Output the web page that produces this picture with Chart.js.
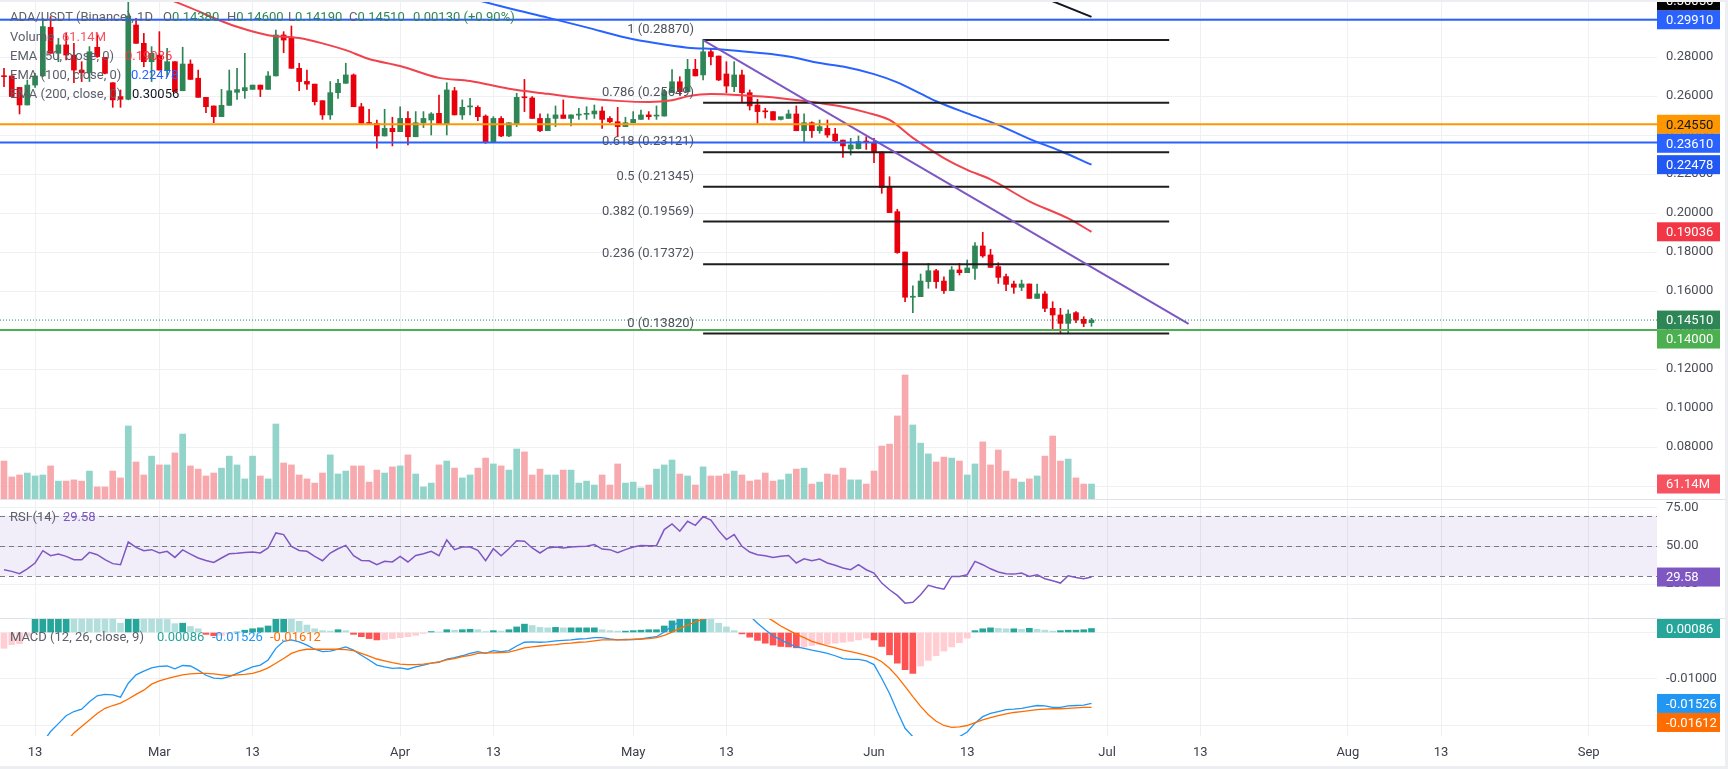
<!DOCTYPE html>
<html>
<head>
<meta charset="utf-8">
<title>ADA/USDT 1D</title>
<script src="https://cdn.jsdelivr.net/npm/chart.js@4.4.1/dist/chart.umd.min.js"></script>
<style>
  html, body { margin: 0; padding: 0; background: #eceef2; width: 1728px; height: 769px; overflow: hidden; }
  #wrap { position: absolute; left: 0; top: 2px; width: 1725px; height: 764px; background: #fff; overflow: hidden; font-family: Roboto, 'Liberation Sans', sans-serif; }
  canvas { position: absolute; left: 0; }
  .sep { position: absolute; left: 0; width: 1725px; height: 1px; background: #dfe2e8; }
  .lg { position: absolute; white-space: nowrap; font-size: 13px; line-height: 18px; color: #5d606b; }
  .k { color: #5d606b; }
  .up { color: #2e8555; }
</style>
</head>
<body>
<div id="wrap">
  <canvas id="mainChart" width="1725" height="497" style="top:0"></canvas>
  <canvas id="rsiChart" width="1725" height="119" style="top:497px"></canvas>
  <canvas id="macdChart" width="1725" height="148" style="top:616px"></canvas>
  <div class="sep" style="top:497px"></div>
  <div class="sep" style="top:616px"></div>

  <!-- legend, main pane -->
  <div class="lg" style="top:6px;left:10px">ADA/USDT (Binance), 1D</div>
  <div class="lg" style="top:6px;left:163px"><span class="k">O</span><span class="up">0.14380</span></div>
  <div class="lg" style="top:6px;left:227px"><span class="k">H</span><span class="up">0.14600</span></div>
  <div class="lg" style="top:6px;left:288px"><span class="k">L</span><span class="up">0.14190</span></div>
  <div class="lg" style="top:6px;left:349px"><span class="k">C</span><span class="up">0.14510</span></div>
  <div class="lg up" style="top:6px;left:413px">0.00130 (+0.90%)</div>
  <div class="lg" style="top:26px;left:10px">Volume</div>
  <div class="lg" style="top:26px;left:62px;color:#f7525f">61.14M</div>
  <div class="lg" style="top:45px;left:10px">EMA (50, close, 0)</div>
  <div class="lg" style="top:45px;left:125px;color:#f23645">0.19036</div>
  <div class="lg" style="top:64px;left:10px">EMA (100, close, 0)</div>
  <div class="lg" style="top:64px;left:131px;color:#2962ff">0.22478</div>
  <div class="lg" style="top:83px;left:10px">EMA (200, close, 0)</div>
  <div class="lg" style="top:83px;left:132px;color:#131722">0.30056</div>

  <!-- legend, RSI pane -->
  <div class="lg" style="top:506px;left:10px">RSI (14)</div>
  <div class="lg" style="top:506px;left:63px;color:#7e57c2">29.58</div>

  <!-- legend, MACD pane -->
  <div class="lg" style="top:626px;left:10px">MACD (12, 26, close, 9)</div>
  <div class="lg" style="top:626px;left:157px;color:#26a69a">0.00086</div>
  <div class="lg" style="top:626px;left:212px;color:#2196f3">-0.01526</div>
  <div class="lg" style="top:626px;left:270px;color:#ff6d00">-0.01612</div>
</div>

<script>
// daily candles, index 0 = Feb 9, last = Jun 29
const opens = [
  0.2702, 0.2703, 0.2644, 0.2554, 0.2656, 0.2703, 0.2952, 0.2819, 0.2862, 0.2810,
  0.2733, 0.2720, 0.2850, 0.2798, 0.2668, 0.2597, 0.2583, 0.2964, 0.2870, 0.2776,
  0.2810, 0.2733, 0.2776, 0.2627, 0.2764, 0.2691, 0.2593, 0.2549, 0.2494, 0.2552,
  0.2619, 0.2627, 0.2634, 0.2656, 0.2634, 0.2703, 0.2913, 0.2896, 0.2742, 0.2675,
  0.2661, 0.2576, 0.2503, 0.2617, 0.2665, 0.2708, 0.2545, 0.2461, 0.2460, 0.2395,
  0.2434, 0.2417, 0.2485, 0.2391, 0.2463, 0.2477, 0.2511, 0.2456, 0.2627, 0.2503,
  0.2544, 0.2542, 0.2497, 0.2361, 0.2485, 0.2395, 0.2456, 0.2595, 0.2590, 0.2485,
  0.2422, 0.2485, 0.2503, 0.2485, 0.2502, 0.2506, 0.2508, 0.2523, 0.2485, 0.2468,
  0.2443, 0.2463, 0.2480, 0.2503, 0.2497, 0.2497, 0.2617, 0.2673, 0.2622, 0.2737,
  0.2708, 0.2827, 0.2805, 0.2713, 0.2648, 0.2708, 0.2617, 0.2554, 0.2521, 0.2520,
  0.2480, 0.2485, 0.2508, 0.2422, 0.2463, 0.2422, 0.2434, 0.2405, 0.2374, 0.2328,
  0.2330, 0.2368, 0.2361, 0.2313, 0.2135, 0.2007, 0.1800, 0.1568, 0.1571, 0.1648,
  0.1704, 0.1651, 0.1602, 0.1708, 0.1694, 0.1716, 0.1831, 0.1785, 0.1725, 0.1674,
  0.1636, 0.1619, 0.1636, 0.1562, 0.1585, 0.1511, 0.1477, 0.1434, 0.1489, 0.1455,
  0.1438
];
const highs = [
  0.2742, 0.2705, 0.2644, 0.2682, 0.2716, 0.2998, 0.3007, 0.2896, 0.2921, 0.2870,
  0.2776, 0.2853, 0.2913, 0.2798, 0.2668, 0.2631, 0.3084, 0.2998, 0.2921, 0.2853,
  0.2930, 0.2844, 0.2776, 0.2850, 0.2785, 0.2733, 0.2593, 0.2549, 0.2634, 0.2733,
  0.2742, 0.2819, 0.2656, 0.2656, 0.2725, 0.2938, 0.2930, 0.2959, 0.2768, 0.2733,
  0.2661, 0.2576, 0.2674, 0.2685, 0.2768, 0.2713, 0.2562, 0.2532, 0.2477, 0.2532,
  0.2491, 0.2545, 0.2520, 0.2520, 0.2520, 0.2515, 0.2605, 0.2668, 0.2644, 0.2580,
  0.2588, 0.2549, 0.2503, 0.2494, 0.2494, 0.2463, 0.2614, 0.2685, 0.2597, 0.2508,
  0.2508, 0.2549, 0.2580, 0.2503, 0.2537, 0.2545, 0.2554, 0.2545, 0.2494, 0.2542,
  0.2491, 0.2520, 0.2528, 0.2520, 0.2549, 0.2634, 0.2736, 0.2699, 0.2788, 0.2788,
  0.2891, 0.2844, 0.2805, 0.2776, 0.2776, 0.2733, 0.2631, 0.2583, 0.2537, 0.2520,
  0.2482, 0.2528, 0.2549, 0.2508, 0.2468, 0.2477, 0.2477, 0.2434, 0.2374, 0.2383,
  0.2395, 0.2391, 0.2383, 0.2313, 0.2186, 0.2019, 0.1800, 0.1626, 0.1687, 0.1742,
  0.1711, 0.1673, 0.1725, 0.1742, 0.1759, 0.1848, 0.1901, 0.1814, 0.1745, 0.1687,
  0.1651, 0.1656, 0.1636, 0.1636, 0.1597, 0.1545, 0.1511, 0.1503, 0.1494, 0.1468,
  0.1460
];
const lows = [
  0.2648, 0.2594, 0.2508, 0.2554, 0.2644, 0.2699, 0.2819, 0.2776, 0.2785, 0.2668,
  0.2674, 0.2674, 0.2798, 0.2713, 0.2542, 0.2542, 0.2580, 0.2870, 0.2750, 0.2674,
  0.2733, 0.2699, 0.2622, 0.2627, 0.2685, 0.2593, 0.2515, 0.2463, 0.2494, 0.2552,
  0.2583, 0.2588, 0.2634, 0.2597, 0.2634, 0.2703, 0.2822, 0.2742, 0.2627, 0.2634,
  0.2554, 0.2480, 0.2480, 0.2588, 0.2665, 0.2545, 0.2456, 0.2456, 0.2332, 0.2395,
  0.2344, 0.2417, 0.2349, 0.2391, 0.2438, 0.2400, 0.2456, 0.2400, 0.2503, 0.2480,
  0.2503, 0.2474, 0.2357, 0.2361, 0.2391, 0.2391, 0.2443, 0.2520, 0.2485, 0.2417,
  0.2422, 0.2443, 0.2485, 0.2446, 0.2480, 0.2480, 0.2485, 0.2434, 0.2463, 0.2391,
  0.2443, 0.2463, 0.2480, 0.2480, 0.2480, 0.2497, 0.2617, 0.2605, 0.2622, 0.2703,
  0.2682, 0.2759, 0.2679, 0.2617, 0.2622, 0.2571, 0.2528, 0.2460, 0.2487, 0.2477,
  0.2477, 0.2485, 0.2422, 0.2366, 0.2388, 0.2409, 0.2388, 0.2366, 0.2285, 0.2297,
  0.2328, 0.2326, 0.2258, 0.2101, 0.2002, 0.1793, 0.1545, 0.1489, 0.1571, 0.1614,
  0.1614, 0.1588, 0.1602, 0.1682, 0.1694, 0.1660, 0.1773, 0.1721, 0.1639, 0.1602,
  0.1588, 0.1602, 0.1562, 0.1562, 0.1494, 0.1400, 0.1386, 0.1383, 0.1438, 0.1417,
  0.1419
];
const closes = [
  0.2699, 0.2597, 0.2554, 0.2656, 0.2703, 0.2956, 0.2819, 0.2862, 0.2810, 0.2733,
  0.2720, 0.2827, 0.2802, 0.2716, 0.2580, 0.2583, 0.3010, 0.2870, 0.2776, 0.2819,
  0.2733, 0.2776, 0.2622, 0.2764, 0.2685, 0.2593, 0.2545, 0.2494, 0.2552, 0.2627,
  0.2633, 0.2643, 0.2656, 0.2634, 0.2703, 0.2913, 0.2887, 0.2742, 0.2674, 0.2661,
  0.2571, 0.2503, 0.2617, 0.2665, 0.2708, 0.2545, 0.2460, 0.2459, 0.2395, 0.2434,
  0.2417, 0.2485, 0.2391, 0.2463, 0.2485, 0.2508, 0.2456, 0.2631, 0.2503, 0.2542,
  0.2546, 0.2494, 0.2361, 0.2485, 0.2395, 0.2463, 0.2593, 0.2591, 0.2485, 0.2422,
  0.2485, 0.2503, 0.2485, 0.2503, 0.2504, 0.2508, 0.2523, 0.2480, 0.2468, 0.2443,
  0.2463, 0.2480, 0.2503, 0.2494, 0.2499, 0.2622, 0.2673, 0.2622, 0.2737, 0.2703,
  0.2827, 0.2802, 0.2682, 0.2651, 0.2708, 0.2617, 0.2549, 0.2520, 0.2519, 0.2477,
  0.2494, 0.2508, 0.2422, 0.2463, 0.2422, 0.2443, 0.2400, 0.2371, 0.2344, 0.2349,
  0.2366, 0.2364, 0.2309, 0.2130, 0.2002, 0.1797, 0.1568, 0.1571, 0.1651, 0.1704,
  0.1648, 0.1602, 0.1708, 0.1694, 0.1718, 0.1831, 0.1780, 0.1721, 0.1670, 0.1634,
  0.1619, 0.1636, 0.1562, 0.1585, 0.1511, 0.1477, 0.1434, 0.1482, 0.1451, 0.1434,
  0.1451
];
// volume in millions
const volumes = [
  155, 90, 98, 106, 94, 98, 135, 73, 73, 78,
  73, 114, 49, 49, 114, 86, 298, 151, 98, 175,
  139, 139, 188, 265, 135, 122, 94, 106, 126, 175,
  139, 82, 175, 94, 82, 306, 147, 139, 98, 82,
  65, 106, 180, 102, 114, 135, 135, 69, 118, 106,
  131, 135, 180, 102, 49, 65, 139, 155, 126, 86,
  98, 126, 167, 143, 135, 118, 204, 192, 98, 122,
  98, 98, 118, 118, 65, 73, 57, 98, 57, 143,
  65, 69, 45, 57, 122, 139, 159, 102, 94, 57,
  131, 94, 94, 102, 114, 98, 73, 78, 106, 73,
  78, 102, 122, 126, 61, 69, 102, 98, 126, 78,
  78, 61, 114, 216, 224, 339, 506, 302, 228, 184,
  151, 171, 167, 155, 98, 143, 233, 139, 200, 114,
  82, 69, 82, 94, 175, 257, 155, 163, 86, 61,
  61.14
];
const rsi = [
  34.4, 33.3, 31.8, 35, 38.8, 46.9, 43.6, 44.7, 43.2, 41,
  41, 45.8, 44.3, 41, 38.4, 37.7, 52.6, 49.1, 46.9, 47.6,
  45.4, 46.5, 42.5, 47.4, 44.7, 42.1, 40.5, 39.2, 42.1, 44.9,
  45.2, 45.8, 46, 45.4, 48.7, 58.6, 57.5, 49.8, 47.1, 46.5,
  43.2, 40.3, 45.4, 48.2, 50.4, 43.6, 40.5, 40.3, 37.7, 39.9,
  39.5, 43.2, 39.5, 43.8, 44.9, 46.5, 43.6, 54, 47.6, 49.3,
  49.3, 47.1, 40.3, 48.2, 43.6, 48.2, 53.5, 53.1, 48.7, 45.4,
  48.7, 49.3, 48.7, 49.3, 49.6, 49.8, 50.9, 48, 47.6, 45.6,
  47.6, 49.3, 50.4, 50.2, 50.2, 60.8, 64.5, 59.7, 66.3, 63.6,
  69.3, 67.1, 60.1, 54.2, 57.5, 49.8, 46, 44.3, 43.6, 42.5,
  43.2, 43.8, 38.8, 41.6, 40.3, 41.4, 38.8, 37.3, 35.5, 34.4,
  37.7, 34.4, 32.2, 25.6, 21.2, 17.5, 12.4, 13, 17.9, 24.1,
  22.7, 21.6, 30, 30, 31.1, 39.9, 37.7, 35, 32.9, 31.8,
  31.5, 32.2, 30, 31.1, 28.5, 27.1, 25.6, 30.4, 29.3, 28.5,
  29.58
];
const macdLine = [
  -0.0370, -0.0358, -0.0345, -0.0318, -0.0265, -0.0236, -0.0213, -0.0196, -0.0179, -0.0170,
  -0.0165, -0.0149, -0.0136, -0.0133, -0.0134, -0.0139, -0.0109, -0.0091, -0.0083, -0.0076,
  -0.0073, -0.0072, -0.0078, -0.0071, -0.0072, -0.0081, -0.0092, -0.0098, -0.0099, -0.0095,
  -0.0088, -0.0081, -0.0074, -0.0070, -0.0059, -0.0034, -0.0019, -0.0016, -0.0020, -0.0027,
  -0.0036, -0.0041, -0.0040, -0.0036, -0.0031, -0.0038, -0.0049, -0.0059, -0.0070, -0.0074,
  -0.0077, -0.0076, -0.0079, -0.0074, -0.0070, -0.0066, -0.0064, -0.0057, -0.0054, -0.0050,
  -0.0045, -0.0041, -0.0045, -0.0039, -0.0041, -0.0039, -0.0029, -0.0021, -0.0020, -0.0021,
  -0.0020, -0.0018, -0.0017, -0.0016, -0.0014, -0.0013, -0.0011, -0.0011, -0.0014, -0.0016,
  -0.0015, -0.0015, -0.0014, -0.0011, -0.0009, 0.0001, 0.0014, 0.0023, 0.0038, 0.0045,
  0.0055, 0.0058, 0.0052, 0.0045, 0.0042, 0.0040, 0.0036, 0.0020, 0.0006, -0.0007,
  -0.0016, -0.0024, -0.0031, -0.0034, -0.0038, -0.0041, -0.0045, -0.0050, -0.0056, -0.0058,
  -0.0058, -0.0061, -0.0069, -0.0099, -0.0131, -0.0170, -0.0206, -0.0224, -0.0238, -0.0240,
  -0.0243, -0.0241, -0.0236, -0.0224, -0.0214, -0.0195, -0.0181, -0.0174, -0.0170, -0.0166,
  -0.0165, -0.0163, -0.0160, -0.0157, -0.0158, -0.0161, -0.0161, -0.0158, -0.0157, -0.0156,
  -0.01526
];
const signalLine = [
  -0.0336, -0.0332, -0.0321, -0.0310, -0.0297, -0.0283, -0.0267, -0.0252, -0.0236, -0.0216,
  -0.0202, -0.0188, -0.0174, -0.0163, -0.0157, -0.0152, -0.0143, -0.0133, -0.0124, -0.0111,
  -0.0104, -0.0099, -0.0095, -0.0091, -0.0089, -0.0088, -0.0088, -0.0089, -0.0091, -0.0093,
  -0.0091, -0.0090, -0.0088, -0.0083, -0.0076, -0.0066, -0.0056, -0.0045, -0.0039, -0.0036,
  -0.0036, -0.0036, -0.0036, -0.0036, -0.0037, -0.0039, -0.0045, -0.0051, -0.0057, -0.0061,
  -0.0065, -0.0068, -0.0069, -0.0069, -0.0068, -0.0066, -0.0063, -0.0059, -0.0056, -0.0052,
  -0.0049, -0.0045, -0.0044, -0.0044, -0.0043, -0.0042, -0.0038, -0.0033, -0.0031, -0.0029,
  -0.0027, -0.0026, -0.0024, -0.0023, -0.0021, -0.0020, -0.0018, -0.0016, -0.0016, -0.0016,
  -0.0016, -0.0015, -0.0014, -0.0013, -0.0011, -0.0006, 0.0001, 0.0009, 0.0016, 0.0023,
  0.0029, 0.0032, 0.0037, 0.0040, 0.0042, 0.0043, 0.0042, 0.0040, 0.0035, 0.0025,
  0.0014, 0.0005, -0.0004, -0.0011, -0.0019, -0.0024, -0.0029, -0.0033, -0.0038, -0.0041,
  -0.0045, -0.0049, -0.0054, -0.0063, -0.0077, -0.0095, -0.0116, -0.0138, -0.0159, -0.0177,
  -0.0191, -0.0200, -0.0204, -0.0203, -0.0200, -0.0194, -0.0188, -0.0183, -0.0179, -0.0175,
  -0.0172, -0.0170, -0.0168, -0.0166, -0.0165, -0.0164, -0.0164, -0.0163, -0.0162, -0.0161,
  -0.01612
];
const macdHist = [
  -0.0034, -0.0026, -0.0024, -0.0008, 0.0032, 0.0042, 0.0050, 0.0056, 0.0060, 0.0058,
  0.0054, 0.0050, 0.0044, 0.0036, 0.0030, 0.0020, 0.0034, 0.0042, 0.0040, 0.0036,
  0.0032, 0.0028, 0.0019, 0.0020, 0.0013, 0.0008, -0.0004, -0.0007, -0.0006, -0.0003,
  0.0001, 0.0005, 0.0008, 0.0010, 0.0014, 0.0035, 0.0040, 0.0032, 0.0024, 0.0016,
  0.0008, 0.0004, 0.0003, 0.0006, 0.0004, -0.0004, -0.0009, -0.0013, -0.0016, -0.0015,
  -0.0013, -0.0011, -0.0009, -0.0006, -0.0002, 0.0002, 0.0001, 0.0006, 0.0005, 0.0006,
  0.0007, 0.0006, 0.0002, 0.0004, 0.0003, 0.0006, 0.0012, 0.0018, 0.0015, 0.0011,
  0.0010, 0.0011, 0.0010, 0.0010, 0.0010, 0.0010, 0.0010, 0.0006, 0.0004, 0.0003,
  0.0003, 0.0004, 0.0005, 0.0006, 0.0006, 0.0014, 0.0025, 0.0032, 0.0040, 0.0042,
  0.0044, 0.0030, 0.0020, 0.0012, 0.0004, -0.0003, -0.0010, -0.0017, -0.0023, -0.0027,
  -0.0030, -0.0031, -0.0033, -0.0031, -0.0028, -0.0026, -0.0025, -0.0023, -0.0021, -0.0019,
  -0.0016, -0.0012, -0.0016, -0.0030, -0.0048, -0.0066, -0.0080, -0.0088, -0.0072, -0.0060,
  -0.0050, -0.0040, -0.0031, -0.0022, -0.0012, 0.0004, 0.0008, 0.0010, 0.0009, 0.0008,
  0.0008, 0.0007, 0.0009, 0.0007, 0.0005, 0.0003, 0.0004, 0.0005, 0.0005, 0.0006,
  0.00086
];

// moving averages at a few days
const ema50Days = [21, 25, 27, 30, 34, 38, 41, 44, 47, 51, 56, 60, 65, 70, 74, 79, 83, 86, 88, 91, 95, 100, 105, 108, 111, 114, 117, 121, 124, 127, 132, 137, 140];
const ema50Vals = [0.3100, 0.3035, 0.3000, 0.2955, 0.2912, 0.2897, 0.2870, 0.2835, 0.2790, 0.2754, 0.2693, 0.2677, 0.2637, 0.2611, 0.2591, 0.2575, 0.2569, 0.2578, 0.2598, 0.2610, 0.2604, 0.2589, 0.2564, 0.2545, 0.2516, 0.2477, 0.2385, 0.2282, 0.2221, 0.2172, 0.2060, 0.1972, 0.19036];
const ema100Days = [60, 65, 70, 75, 80, 84, 88, 92, 97, 101, 105, 108, 112, 115, 118, 120, 124, 128, 132, 136, 140];
const ema100Vals = [0.3102, 0.3050, 0.3002, 0.2952, 0.2900, 0.2870, 0.2848, 0.2840, 0.2822, 0.2803, 0.2769, 0.2751, 0.2712, 0.2670, 0.2612, 0.2573, 0.2511, 0.2452, 0.2380, 0.2318, 0.22478];
const ema200Days = [134, 140];
const ema200Vals = [0.3102, 0.30056];

// drawings
const trendDays = [90, 152.5];
const trendVals = [0.2887, 0.1431];
const fibDays = [90, 150];
const fibRatios = ['1', '0.786', '0.618', '0.5', '0.382', '0.236', '0'];
const fibPrices = [0.2887, 0.25649, 0.23121, 0.21345, 0.19569, 0.17372, 0.1382];
const levelPrices = [0.2991, 0.2455, 0.2361, 0.14];
const lastPrice = 0.1451;

// axes
const tickDays = [4, 20, 32, 51, 63, 81, 93, 112, 124, 142, 154, 173, 185, 204];
const tickLabels = ['13', 'Mar', '13', 'Apr', '13', 'May', '13', 'Jun', '13', 'Jul', '13', 'Aug', '13', 'Sep'];
const priceTicks = [0.06, 0.08, 0.10, 0.12, 0.14, 0.16, 0.18, 0.20, 0.22, 0.24, 0.26, 0.28, 0.30];
const rsiTicks = [25, 50, 75];
const macdTicks = [-0.02, -0.01, 0];

// ---- styling ----
const FONT = "Roboto, 'Liberation Sans', sans-serif";
const GRID = '#eef0f4';
const AXIS_TXT = '#4a4d57';
const AXIS_W = 68;
const UP = '#2e8555', DOWN = '#e8000c';
const VOL_UP = '#92d3ca', VOL_DOWN = '#f8a9ad';
const X_MIN = -0.515, X_MAX = 212.8;

Chart.defaults.font.family = FONT;
Chart.defaults.font.size = 13;

const days = opens.map((_, i) => i);
const isUp = days.map(i => closes[i] >= opens[i]);

function xScale(withLabels) {
  return {
    type: 'linear', min: X_MIN, max: X_MAX, offset: false,
    grid: { color: GRID, drawTicks: false, offset: false },
    border: { display: false },
    afterBuildTicks: s => { s.ticks = tickDays.map(v => ({ value: v })); },
    ticks: {
      display: withLabels, autoSkip: false, maxRotation: 0, padding: 9, color: '#3b3e48',
      callback: (v, i) => tickLabels[i]
    },
    afterFit: s => { s.height = withLabels ? 30 : 0; s.paddingLeft = 0; s.paddingRight = 0; }
  };
}

function yScale(min, max, ticks, digits) {
  return {
    position: 'right', min, max,
    grid: { color: GRID, drawTicks: false },
    border: { display: false },
    afterBuildTicks: s => { s.ticks = ticks.map(v => ({ value: v })); },
    ticks: { padding: 9, color: AXIS_TXT, callback: v => v.toFixed(digits) },
    afterFit: s => { s.width = AXIS_W; s.paddingTop = 0; s.paddingBottom = 0; }
  };
}

function points(xs, ys) {
  return xs.map((x, k) => ({ x, y: ys[k] }));
}

function lineSet(data, color, width, order, extra) {
  return Object.assign({
    type: 'line', data, borderColor: color, borderWidth: width,
    pointRadius: 0, fill: false, order, yAxisID: 'y'
  }, extra || {});
}

// full width horizontal lines
const levelsPlugin = {
  id: 'levels',
  afterDatasetsDraw(chart, args, opts) {
    const { ctx, chartArea: a } = chart;
    ctx.save();
    ctx.beginPath();
    ctx.rect(a.left, a.top, a.right - a.left, a.bottom - a.top);
    ctx.clip();
    (opts.lines || []).forEach(l => {
      const y = chart.scales.y.getPixelForValue(l.value);
      ctx.strokeStyle = l.color;
      ctx.lineWidth = l.width;
      ctx.setLineDash(l.dash || []);
      ctx.beginPath();
      ctx.moveTo(a.left, y);
      ctx.lineTo(a.right, y);
      ctx.stroke();
    });
    ctx.restore();
  }
};

// coloured value boxes on the price axis
const axisBoxPlugin = {
  id: 'axisBoxes',
  afterDraw(chart, args, opts) {
    const { ctx, chartArea: a } = chart;
    const H = 19;
    const placed = [];
    ctx.save();
    ctx.font = '13px ' + FONT;
    ctx.textBaseline = 'middle';
    ctx.textAlign = 'left';
    (opts.items || []).forEach(it => {
      let y = chart.scales[it.axis || 'y'].getPixelForValue(it.value);
      for (let guard = 0; guard < 10; guard++) {
        const hit = placed.find(p => Math.abs(p - y) < H - 0.5);
        if (hit === undefined) break;
        y = y < hit ? hit - H : hit + H;
      }
      placed.push(y);
      ctx.fillStyle = it.bg;
      ctx.fillRect(a.right, y - H / 2, 63, H);
      ctx.fillStyle = it.fg || '#fff';
      ctx.fillText(it.text, a.right + 9, y + 1);
    });
    ctx.restore();
  }
};

// fib level captions
const fibTextPlugin = {
  id: 'fibText',
  afterDatasetsDraw(chart) {
    const { ctx } = chart;
    const x = chart.scales.x.getPixelForValue(fibDays[0]) - 9;
    ctx.save();
    ctx.font = '13px ' + FONT;
    ctx.fillStyle = '#50535e';
    ctx.textAlign = 'right';
    ctx.textBaseline = 'middle';
    fibPrices.forEach((p, k) => {
      const y = chart.scales.y.getPixelForValue(p) - 10;
      ctx.fillText(fibRatios[k] + ' (' + p.toFixed(5) + ')', x, y);
    });
    ctx.restore();
  }
};

// RSI band and dashed bounds
const rsiBandPlugin = {
  id: 'rsiBand',
  beforeDatasetsDraw(chart) {
    const { ctx, chartArea: a, scales: { y } } = chart;
    const y70 = y.getPixelForValue(70), y30 = y.getPixelForValue(30);
    ctx.save();
    ctx.fillStyle = 'rgba(126, 87, 194, 0.1)';
    ctx.fillRect(a.left, y70, a.right - a.left, y30 - y70);
    ctx.strokeStyle = '#787b86';
    ctx.lineWidth = 1;
    ctx.setLineDash([5, 4]);
    [70, 50, 30].forEach(v => {
      const py = Math.round(y.getPixelForValue(v)) + 0.5;
      ctx.beginPath();
      ctx.moveTo(a.left, py);
      ctx.lineTo(a.right, py);
      ctx.stroke();
    });
    ctx.restore();
  }
};

const baseOptions = {
  responsive: false,
  animation: false,
  events: [],
  layout: { padding: 0 }
};

// ---- main price pane ----
const priceTop = 0.2 + 211 / 1950, priceBottom = 0.2 - 286 / 1950;

const fibSets = fibPrices.map(p =>
  lineSet(points(fibDays, [p, p]), '#1e1e1e', 2, 2));

new Chart(document.getElementById('mainChart'), {
  type: 'bar',
  data: {
    datasets: [
      {
        type: 'bar', yAxisID: 'yv', order: 10, grouped: false, barThickness: 6,
        data: days.map(i => ({ x: i, y: volumes[i] })),
        backgroundColor: days.map(i => isUp[i] ? VOL_UP : VOL_DOWN)
      },
      {
        type: 'bar', yAxisID: 'y', order: 6, grouped: false, barThickness: 1,
        data: days.map(i => ({ x: i, y: [lows[i], highs[i]] })),
        backgroundColor: days.map(i => isUp[i] ? UP : DOWN)
      },
      {
        type: 'bar', yAxisID: 'y', order: 5, grouped: false, barThickness: 5, minBarLength: 1,
        data: days.map(i => ({ x: i, y: [opens[i], closes[i]] })),
        backgroundColor: days.map(i => isUp[i] ? UP : DOWN)
      },
      lineSet(points(ema50Days, ema50Vals), '#f0434e', 2, 3, { cubicInterpolationMode: 'monotone' }),
      lineSet(points(ema100Days, ema100Vals), '#2962ff', 2, 3, { cubicInterpolationMode: 'monotone' }),
      lineSet(points(ema200Days, ema200Vals), '#131722', 2, 3),
      ...fibSets,
      lineSet(points(trendDays, trendVals), '#7e57c2', 2, 1)
    ]
  },
  options: Object.assign({}, baseOptions, {
    scales: {
      x: xScale(false),
      y: yScale(priceBottom, priceTop, priceTicks, 5),
      yv: { display: false, min: 0, max: 2028 }
    },
    plugins: {
      legend: { display: false },
      tooltip: { enabled: false },
      levels: {
        lines: [
          { value: levelPrices[0], color: '#2962ff', width: 2 },
          { value: levelPrices[1], color: '#ff9800', width: 2 },
          { value: levelPrices[2], color: '#2962ff', width: 2 },
          { value: levelPrices[3], color: '#4caf50', width: 2 },
          { value: lastPrice, color: '#2e8555', width: 1, dash: [1, 2] }
        ]
      },
      axisBoxes: {
        items: [
          { value: lastPrice, text: lastPrice.toFixed(5), bg: '#2e8555' },
          { value: levelPrices[0], text: levelPrices[0].toFixed(5), bg: '#2962ff' },
          { value: levelPrices[1], text: levelPrices[1].toFixed(5), bg: '#ff9800', fg: '#131722' },
          { value: levelPrices[2], text: levelPrices[2].toFixed(5), bg: '#2962ff' },
          { value: levelPrices[3], text: levelPrices[3].toFixed(5), bg: '#4caf50' },
          { value: ema100Vals[ema100Vals.length - 1], text: '0.22478', bg: '#2157f2' },
          { value: ema50Vals[ema50Vals.length - 1], text: '0.19036', bg: '#f23645' },
          { value: ema200Vals[ema200Vals.length - 1], text: '0.30056', bg: '#000000' },
          { axis: 'yv', value: volumes[volumes.length - 1], text: '61.14M', bg: '#f7525f' }
        ]
      }
    }
  }),
  plugins: [levelsPlugin, fibTextPlugin, axisBoxPlugin]
});

// ---- RSI pane ----
new Chart(document.getElementById('rsiChart'), {
  type: 'line',
  data: {
    datasets: [{
      data: points(days, rsi), borderColor: '#7e57c2', borderWidth: 1.5,
      pointRadius: 0, fill: false, yAxisID: 'y'
    }]
  },
  options: Object.assign({}, baseOptions, {
    scales: {
      x: xScale(false),
      y: yScale(50 - 72 / 1.52, 50 + 47 / 1.52, rsiTicks, 2)
    },
    plugins: {
      legend: { display: false },
      tooltip: { enabled: false },
      axisBoxes: { items: [{ value: rsi[rsi.length - 1], text: '29.58', bg: '#7e57c2' }] }
    }
  }),
  plugins: [rsiBandPlugin, axisBoxPlugin]
});

// ---- MACD pane ----
const histColors = macdHist.map((v, i) => {
  const prev = i > 0 ? macdHist[i - 1] : v;
  if (v >= 0) return v >= prev ? '#26a69a' : '#b2dfdb';
  return v < prev ? '#ff5252' : '#ffcdd2';
});

new Chart(document.getElementById('macdChart'), {
  type: 'bar',
  data: {
    datasets: [
      {
        type: 'bar', order: 5, grouped: false, barThickness: 6, yAxisID: 'y',
        data: points(days, macdHist), backgroundColor: histColors
      },
      lineSet(points(days, macdLine), '#2196f3', 1.3, 2),
      lineSet(points(days, signalLine), '#ff6d00', 1.3, 1)
    ]
  },
  options: Object.assign({}, baseOptions, {
    scales: {
      x: xScale(true),
      y: yScale(-103.5 / 4650, 14.5 / 4650, macdTicks, 5)
    },
    plugins: {
      legend: { display: false },
      tooltip: { enabled: false },
      axisBoxes: {
        items: [
          { value: macdHist[macdHist.length - 1], text: '0.00086', bg: '#26a69a' },
          { value: macdLine[macdLine.length - 1], text: '-0.01526', bg: '#2196f3' },
          { value: signalLine[signalLine.length - 1], text: '-0.01612', bg: '#ff6d00' }
        ]
      }
    }
  }),
  plugins: [axisBoxPlugin]
});
</script>
</body>
</html>
